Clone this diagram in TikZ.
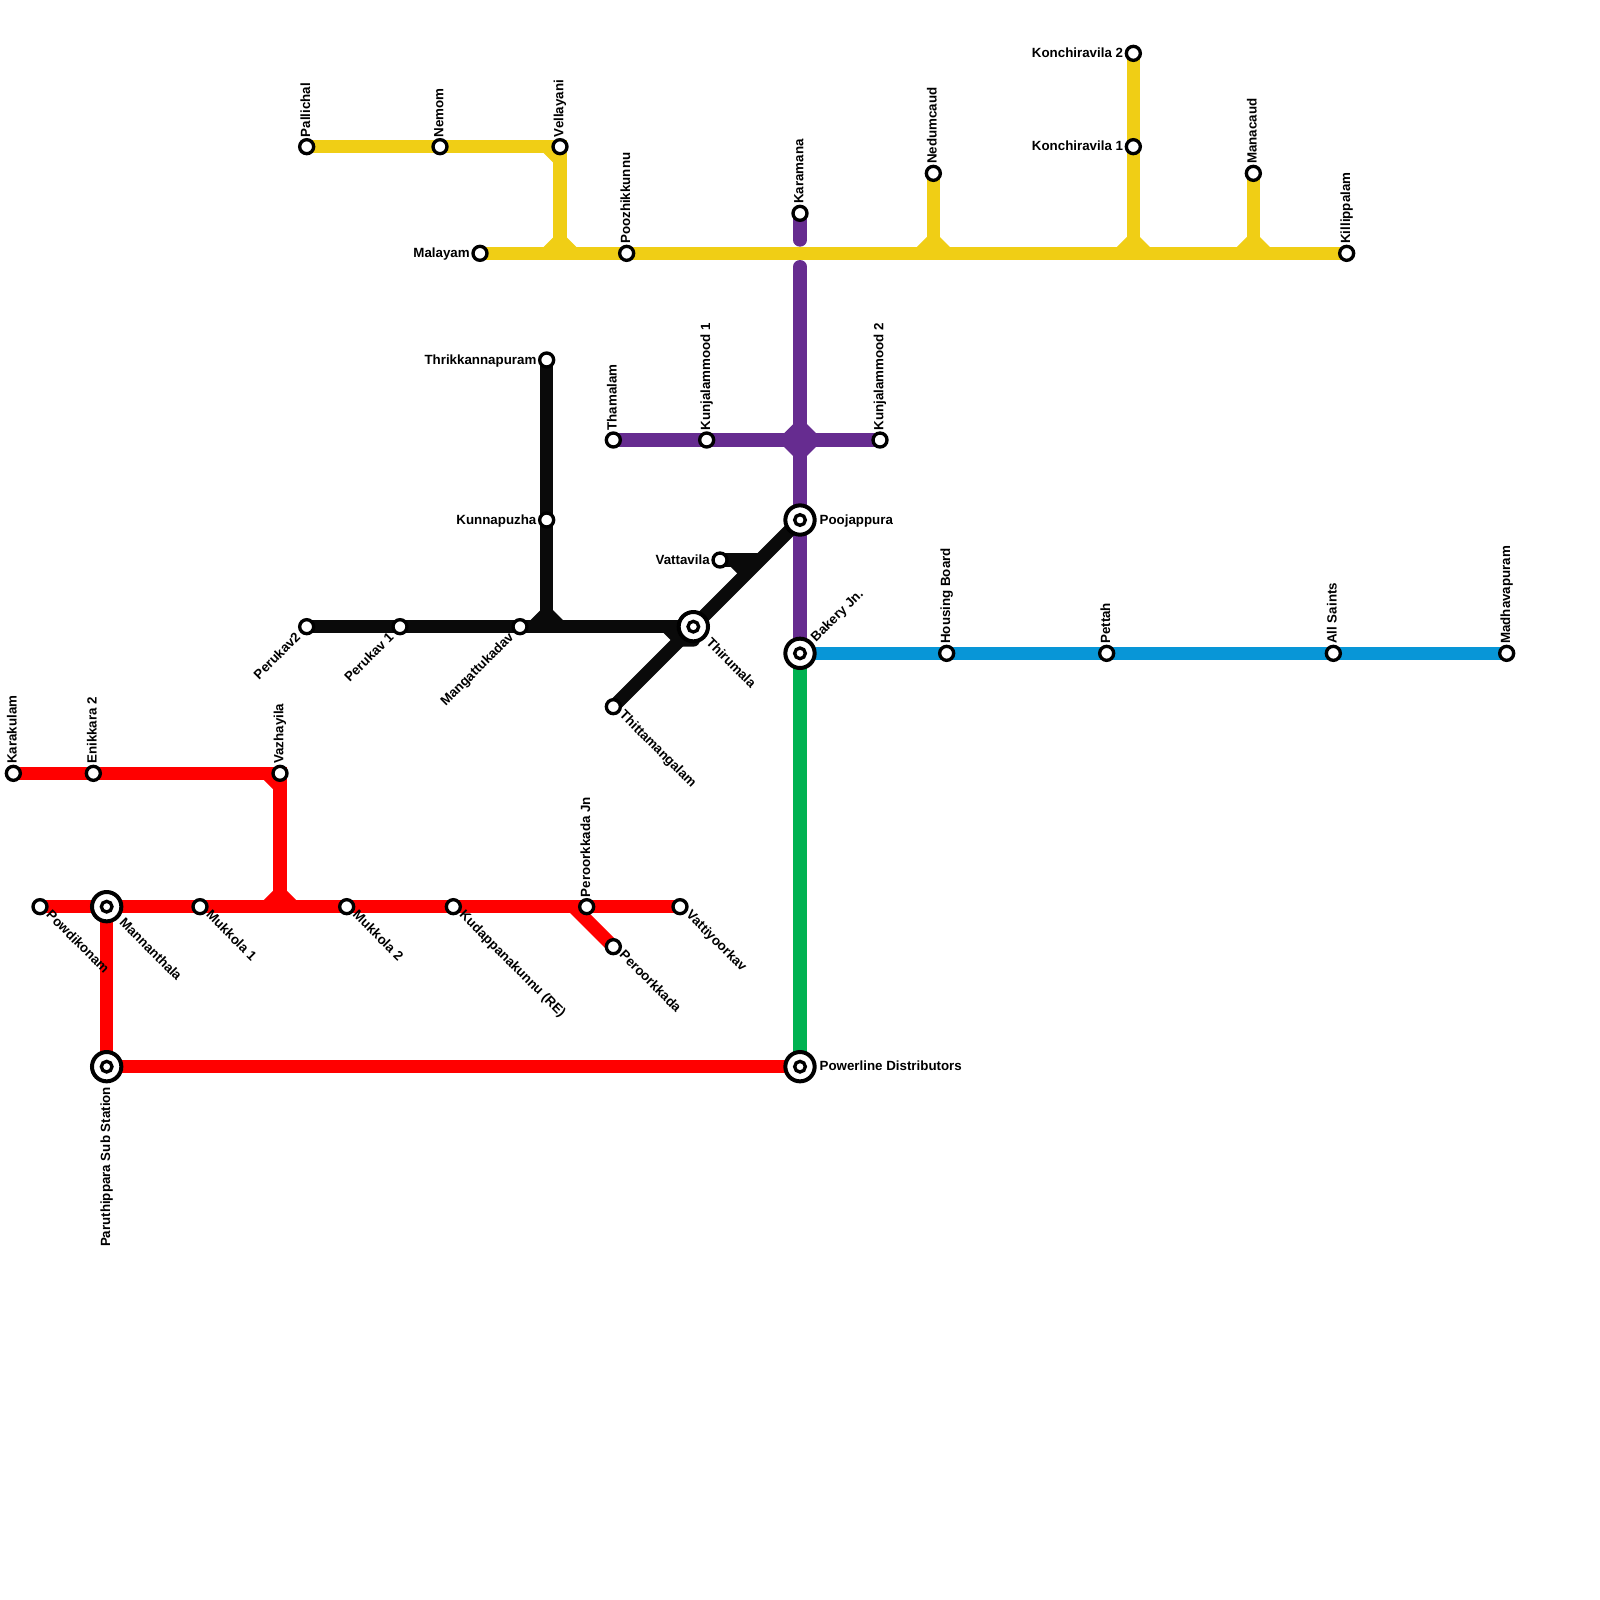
\documentclass[tikz,border=0pt]{standalone}
\usepackage{fontspec}
\setmainfont{Liberation Sans}
\usetikzlibrary{backgrounds}
\definecolor{redline}{HTML}{FF0000}
\definecolor{yellowline}{HTML}{F0CE15}
\definecolor{purpleline}{HTML}{662C90}
\definecolor{blackline}{HTML}{0A0A0A}
\definecolor{blueline}{HTML}{0896D7}
\definecolor{greenline}{HTML}{00B251}
\tikzset{
	stn/.style={circle, draw=black, fill=white, line width=2.5pt, minimum size=10.5pt, inner sep=0pt},
	hub/.style={circle, draw=black, fill=white, line width=3pt, minimum size=22pt, inner sep=0pt,
		path picture={\draw[line width=2.5pt] (path picture bounding box.center) circle (4pt);}},
	lbl/.style={inner sep=0pt, font=\fontsize{10}{12}\selectfont\bfseries},
	lblup/.style={lbl, shift={(0.25,-0.7)}, rotate=90, anchor=base west},
	lbldown/.style={lbl, shift={(0.25,1.5)}, rotate=90, anchor=base east},
	lblright/.style={lbl, shift={(1.45,0.3)}, anchor=base west},
	lblleft/.style={lbl, shift={(-0.75,0.3)}, anchor=base east},
	lblse/.style={lbl, shift={(0.4,0.68)}, rotate=-45, anchor=base west},
	lblsehub/.style={lbl, shift={(0.9,1.25)}, rotate=-45, anchor=base west},
	lblne/.style={lbl, shift={(1.2,-0.8)}, rotate=45, anchor=base west},
	lblsw/.style={lbl, shift={(-0.4,0.85)}, rotate=45, anchor=base east},
	metro/.style={line width=10pt}
}

\begin{document}
\begin{tikzpicture}[x=10pt, y=-10pt]
	\useasboundingbox (0, 0) rectangle (120, 120);

	%%%%% STATIONS %%%%%

	\node[stn] (karakulam) at (1, 58) {};
	\node[stn] (enikkara) at (7, 58) {};
	\node[stn] (vazhayila) at (21, 58) {};
	\node[stn] (powdikonam) at (3, 68) {};
	\node[hub] (mannanthala) at (8, 68) {};
	\node[stn] (mukkolaone) at (15, 68) {};
	\node[stn] (mukkolatwo) at (26, 68) {};
	\node[stn] (kudappana) at (34, 68) {};
	\node[stn] (peroorjn) at (44, 68) {};
	\node[stn] (vattiyoor) at (51, 68) {};
	\node[stn] (peroor) at (46, 71) {};
	\node[hub] (paruthi) at (8, 80) {};
	\node[hub] (powerline) at (60, 80) {};

	\node[stn] (pallichal) at (23, 11) {};
	\node[stn] (nemom) at (33, 11) {};
	\node[stn] (vellayani) at (42, 11) {};
	\node[stn] (malayam) at (36, 19) {};
	\node[stn] (poozhi) at (47, 19) {};
	\node[stn] (nedumcaud) at (70, 13) {};
	\node[stn] (konchitwo) at (85, 4) {};
	\node[stn] (konchione) at (85, 11) {};
	\node[stn] (manacaud) at (94, 13) {};
	\node[stn] (killi) at (101, 19) {};

	\node[stn] (karamana) at (60, 16) {};
	\node[stn] (thamalam) at (46, 33) {};
	\node[stn] (kunjaone) at (53, 33) {};
	\node[stn] (kunjatwo) at (66, 33) {};
	\node[hub] (poojappura) at (60, 39) {};
	\node[hub] (bakery) at (60, 49) {};

	\node[stn] (housing) at (71, 49) {};
	\node[stn] (pettah) at (83, 49) {};
	\node[stn] (allsaints) at (100, 49) {};
	\node[stn] (madhava) at (113, 49) {};

	\node[stn] (thrikkanna) at (41, 27) {};
	\node[stn] (kunnapuzha) at (41, 39) {};
	\node[stn] (perukavtwo) at (23, 47) {};
	\node[stn] (perukavone) at (30, 47) {};
	\node[stn] (mangattu) at (39, 47) {};
	\node[hub] (thirumala) at (52, 47) {};
	\node[stn] (thitta) at (46, 53) {};
	\node[stn] (vattavila) at (54, 42) {};

	%%%%% LINES %%%%%

	\begin{scope}[on background layer]
		\coordinate (karamanaend) at (60, 18);
		\coordinate (purplestart) at (60, 20);
		\coordinate (vazhacorner) at (21, 68);
		\coordinate (vellacorner) at (42, 19);
		\coordinate (nedumcorner) at (70, 19);
		\coordinate (konchicorner) at (85, 19);
		\coordinate (manacorner) at (94, 19);
		\coordinate (blackcorner) at (41, 47);
		\coordinate (vattacorner) at (57, 42);

		\draw[metro, color=purpleline, line cap=round] (karamana.center) -- (karamanaend);
		\draw[metro, color=purpleline, line cap=round] (purplestart) -- (bakery.center);
		\draw[metro, color=purpleline] (thamalam.center) -- (kunjatwo.center);
		\draw[metro, color=purpleline] (59, 33) -- (60, 32) -- (61, 33);
		\draw[metro, color=purpleline] (59, 33) -- (60, 34) -- (61, 33);

		\draw[metro, color=blueline] (bakery.center) -- (madhava.center);
		\draw[metro, color=greenline] (bakery.center) -- (powerline.center);

		\draw[metro, color=redline] (karakulam.center) -- (vazhayila.center) -- (vazhacorner);
		\draw[metro, color=redline] (20, 58) -- (21, 59);
		\draw[metro, color=redline] (powdikonam.center) -- (vattiyoor.center);
		\draw[metro, color=redline] (20, 68) -- (21, 67) -- (22, 68);
		\draw[metro, color=redline] (mannanthala.center) -- (paruthi.center) -- (powerline.center);
		\draw[metro, color=redline] (43, 68) -- (peroor.center);

		\draw[metro, color=yellowline] (pallichal.center) -- (vellayani.center) -- (vellacorner);
		\draw[metro, color=yellowline] (41, 11) -- (42, 12);
		\draw[metro, color=yellowline] (malayam.center) -- (killi.center);
		\draw[metro, color=yellowline] (41, 19) -- (42, 18) -- (43, 19);
		\draw[metro, color=yellowline] (nedumcaud.center) -- (nedumcorner);
		\draw[metro, color=yellowline] (69, 19) -- (70, 18) -- (71, 19);
		\draw[metro, color=yellowline] (konchitwo.center) -- (konchicorner);
		\draw[metro, color=yellowline] (84, 19) -- (85, 18) -- (86, 19);
		\draw[metro, color=yellowline] (manacaud.center) -- (manacorner);
		\draw[metro, color=yellowline] (93, 19) -- (94, 18) -- (95, 19);

		\draw[metro, color=blackline] (thrikkanna.center) -- (blackcorner);
		\draw[metro, color=blackline] (perukavtwo.center) -- (thirumala.center);
		\draw[metro, color=blackline] (40, 47) -- (41, 46) -- (42, 47);
		\draw[metro, color=blackline] (thitta.center) -- (poojappura.center);
		\draw[metro, color=blackline, line cap=round] (50, 47) -- (51, 48) -- (52, 48);
		\draw[metro, color=blackline] (vattavila.center) -- (vattacorner);
		\draw[metro, color=blackline] (55, 42) -- (56, 43);
	\end{scope}

	%%%%% LABELS %%%%%

	\node[lblup] (karakulamtext) at (karakulam) {Karakulam};
	\node[lblup] (enikkaratext) at (enikkara) {Enikkara 2};
	\node[lblup] (vazhayilatext) at (vazhayila) {Vazhayila};
	\node[lblse] (powdikonamtext) at (powdikonam) {Powdikonam};
	\node[lblsehub] (mannanthalatext) at (mannanthala) {Mannanthala};
	\node[lblse] (mukkolaonetext) at (mukkolaone) {Mukkola 1};
	\node[lblse] (mukkolatwotext) at (mukkolatwo) {Mukkola 2};
	\node[lblse] (kudappanatext) at (kudappana) {Kudappanakunnu (RE)};
	\node[lblup] (peroorjntext) at (peroorjn) {Peroorkkada Jn};
	\node[lblse] (vattiyoortext) at (vattiyoor) {Vattiyoorkav};
	\node[lblse] (peroortext) at (peroor) {Peroorkkada};
	\node[lbldown] (paruthitext) at (paruthi) {Paruthippara Sub Station};
	\node[lblright] (powerlinetext) at (powerline) {Powerline Distributors};

	\node[lblup] (pallichaltext) at (pallichal) {Pallichal};
	\node[lblup] (nemomtext) at (nemom) {Nemom};
	\node[lblup] (vellayanitext) at (vellayani) {Vellayani};
	\node[lblleft] (malayamtext) at (malayam) {Malayam};
	\node[lblup] (poozhitext) at (poozhi) {Poozhikkunnu};
	\node[lblup] (nedumcaudtext) at (nedumcaud) {Nedumcaud};
	\node[lblleft] (konchitwotext) at (konchitwo) {Konchiravila 2};
	\node[lblleft] (konchionetext) at (konchione) {Konchiravila 1};
	\node[lblup] (manacaudtext) at (manacaud) {Manacaud};
	\node[lblup] (killitext) at (killi) {Killippalam};

	\node[lblup] (karamanatext) at (karamana) {Karamana};
	\node[lblup] (thamalamtext) at (thamalam) {Thamalam};
	\node[lblup] (kunjaonetext) at (kunjaone) {Kunjalammood 1};
	\node[lblup] (kunjatwotext) at (kunjatwo) {Kunjalammood 2};
	\node[lblright] (poojappuratext) at (poojappura) {Poojappura};
	\node[lblne] (bakerytext) at (bakery) {Bakery Jn.};

	\node[lblup] (housingtext) at (housing) {Housing Board};
	\node[lblup] (pettahtext) at (pettah) {Pettah};
	\node[lblup] (allsaintstext) at (allsaints) {All Saints};
	\node[lblup] (madhavatext) at (madhava) {Madhavapuram};

	\node[lblleft] (thrikkannatext) at (thrikkanna) {Thrikkannapuram};
	\node[lblleft] (kunnapuzhatext) at (kunnapuzha) {Kunnapuzha};
	\node[lblsw] (perukavtwotext) at (perukavtwo) {Perukav2};
	\node[lblsw] (perukavonetext) at (perukavone) {Perukav 1};
	\node[lblsw] (mangattutext) at (mangattu) {Mangattukadav};
	\node[lblsehub] (thirumalatext) at (thirumala) {Thirumala};
	\node[lblse] (thittatext) at (thitta) {Thittamangalam};
	\node[lblleft] (vattavilatext) at (vattavila) {Vattavila};
\end{tikzpicture}
\end{document}
